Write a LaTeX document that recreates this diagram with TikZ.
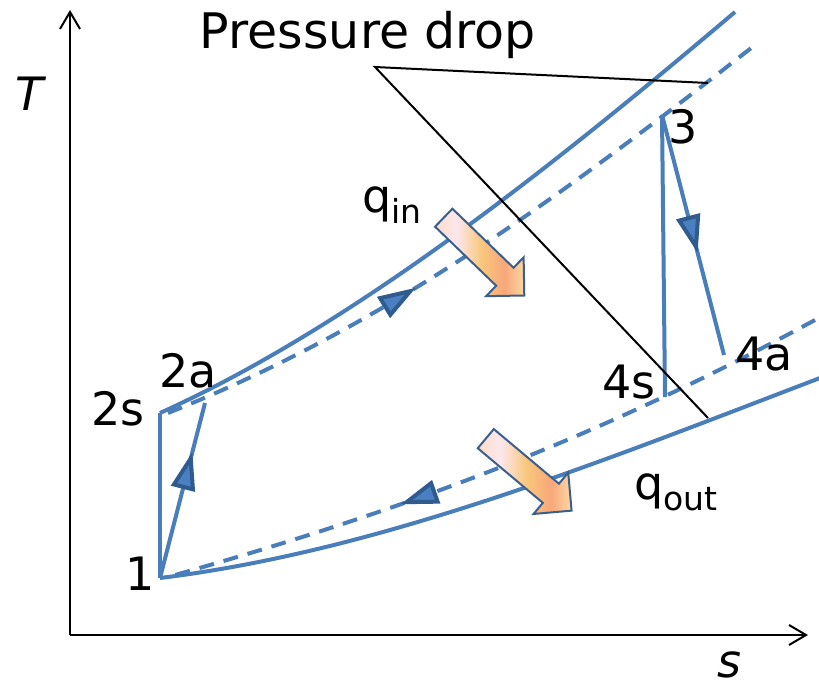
\documentclass[tikz,border=0pt]{standalone}
\usepackage{fontspec}
\setmainfont{DejaVu Sans}
\usetikzlibrary{arrows.meta,shapes.arrows,decorations.markings}

\definecolor{cycleblue}{HTML}{4A7EBB}
\definecolor{tipfill}{HTML}{4A7FC1}
\definecolor{tipedge}{HTML}{2F5B8F}
\definecolor{heatedge}{HTML}{3B5F8C}
\definecolor{heatA}{HTML}{FCDDC6}
\definecolor{heatB}{HTML}{FCE7EE}
\definecolor{heatC}{HTML}{F9C77C}
\definecolor{heatD}{HTML}{F8A77A}
\definecolor{heatE}{HTML}{FDD8A2}
\pgfdeclarehorizontalshading{heatshade}{100bp}{color(0bp)=(heatA); color(25bp)=(heatA); color(37bp)=(heatB); color(51bp)=(heatC); color(64bp)=(heatD); color(75bp)=(heatE); color(100bp)=(heatE)}

\newcommand{\lowsub}[1]{\raisebox{-0.26em}{\fontsize{16.5}{18}\selectfont #1}}

\begin{document}
\begin{tikzpicture}[
    x=0.5pt, y=-0.5pt,
    cycleline/.style={cycleblue, line width=2pt},
    cycledash/.style={cycleline, dash pattern=on 7.5pt off 5pt},
    axisline/.style={black, line width=1pt, -{Straight Barb[length=8.5pt,width=10pt]}},
    leader/.style={black, line width=1pt},
    lbl/.style={font=\fontsize{23}{27}\selectfont, inner sep=0pt, anchor=base},
    heat/.style={single arrow, draw=heatedge, line width=1pt, shading=heatshade,
      single arrow tip angle=90, single arrow head extend=7.25pt,
      minimum height=56pt, inner xsep=0pt, inner ysep=5.75pt, anchor=tail},
    midtip/.style={postaction={decorate}, decoration={markings,
      mark=at position #1 with {\arrow{Triangle[length=19pt,width=12pt,fill=tipfill,color=tipedge]}}}}
  ]
    \useasboundingbox (0,0) rectangle (819,685);

    % axes
    \coordinate (origin) at (70,635);
    \coordinate (Ttop) at (70,10);
    \coordinate (sright) at (808,635);
    \draw[axisline] (origin) -- (Ttop);
    \draw[axisline] (origin) -- (sright);
    \node[lbl] (Tlabel) at (31,110) {\textit{T}};
    \node[lbl] (slabel) at (729,677) {\textit{s}};

    % state points
    \coordinate (p1) at (160,578);
    \coordinate (p2s) at (160,413);
    \coordinate (p2a) at (205,403);
    \coordinate (p3) at (662,115);
    \coordinate (p4s) at (665,397);
    \coordinate (p4a) at (724,355);

    % isobars
    \draw[cycleline] (p2s) .. controls (350,327) and (545,173) .. (735,12);
    \draw[cycledash, midtip=0.4] (168,413) .. controls (378,329) and (545,209) .. (755,45);
    \draw[cycledash, midtip=0.651] (815,320) .. controls (585,445) and (388,515) .. (168,577);
    \draw[cycleline] (p1) .. controls (380,551) and (600,462) .. (820,378);

    % compression and expansion
    \draw[cycleline] (p1) -- (p2s);
    \draw[cycleline, midtip=0.72] (p1) -- (p2a);
    \draw[cycleline] (p3) -- (p4s);
    \draw[cycleline, midtip=0.575] (p3) -- (p4a);

    \node[lbl] (l1) at (140,590) {1};
    \node[lbl] (l2s) at (118,425) {2s};
    \node[lbl] (l2a) at (188,387) {2a};
    \node[lbl] (l3) at (683,143) {3};
    \node[lbl] (l4s) at (629,398) {4s};
    \node[lbl] (l4a) at (764,370) {4a};

    % pressure drop
    \coordinate (pd) at (375,67);
    \coordinate (pdhi) at (708,83);
    \coordinate (pdlo) at (708,418);
    \draw[leader] (pdhi) -- (pd) -- (pdlo);
    \node[lbl, font=\fontsize{24.5}{28}\selectfont] (pdlabel) at (368,48) {Pressure drop};

    % heat flows
    \node[heat, rotate=-44] (qinarrow) at (443,217) {};
    \node[heat, rotate=-40] (qoutarrow) at (485,438) {};
    \node[lbl, anchor=base west] (qin) at (362,212) {q\lowsub{in}};
    \node[lbl, anchor=base west] (qout) at (634,499) {q\lowsub{out}};
  \end{tikzpicture}
\end{document}
